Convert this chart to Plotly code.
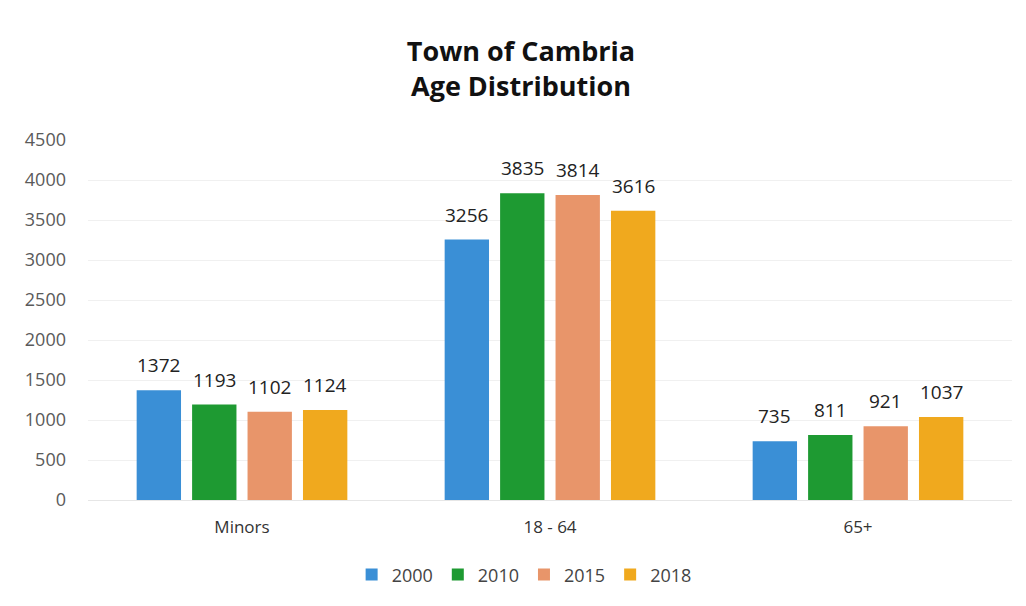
import plotly.graph_objects as go

categories = ["Minors", "18 - 64", "65+"]
years = ["2000", "2010", "2015", "2018"]
values_2000 = [1372, 3256, 735]
values_2010 = [1193, 3835, 811]
values_2015 = [1102, 3814, 921]
values_2018 = [1124, 3616, 1037]
y_ticks = [0, 500, 1000, 1500, 2000, 2500, 3000, 3500, 4000, 4500]

series = [values_2000, values_2010, values_2015, values_2018]
colors = ["#3a8fd6", "#1e9a32", "#e8956a", "#f0a91e"]

bargap = 0.28
groupgap = 0.2

fig = go.Figure()
for year, vals, col in zip(years, series, colors):
    fig.add_trace(go.Bar(
        x=categories,
        y=vals,
        name=year,
        marker=dict(color=col, line=dict(width=0)),
        hovertemplate="%{x}<br>" + year + ": %{y}<extra></extra>",
    ))

# value labels above bars, placed on each bar's slot within its group
slot = (1 - bargap) / len(series)
for k, vals in enumerate(series):
    for i, v in enumerate(vals):
        fig.add_annotation(
            x=i - (1 - bargap) / 2 + slot * (k + 0.5),
            y=v,
            xref="x", yref="y",
            text=str(v),
            showarrow=False,
            yanchor="bottom",
            yshift=10,
            font=dict(size=19, color="#222222", family="Open Sans"),
        )

fig.update_layout(
    width=1026,
    height=606,
    title=dict(
        text="<b>Town of Cambria<br>Age Distribution</b>",
        x=0.5, xanchor="center",
        y=0.913, yanchor="middle",
        font=dict(size=27, color="#111111", family="Open Sans"),
    ),
    barmode="group",
    bargap=bargap,
    bargroupgap=groupgap,
    paper_bgcolor="white",
    plot_bgcolor="white",
    margin=dict(l=80, r=22, t=132, b=114),
    font=dict(family="Open Sans", color="#555555"),
    showlegend=True,
    legend=dict(
        orientation="h",
        x=0.472, xanchor="center",
        y=-0.208, yanchor="middle",
        font=dict(size=18, color="#444444"),
        itemwidth=30,
        traceorder="normal",
    ),
    xaxis=dict(
        tickfont=dict(size=17, color="#333333"),
        showline=True,
        linecolor="#e6e6e6",
        ticks="",
        ticklabelstandoff=12,
    ),
    yaxis=dict(
        range=[0, 4500],
        tickvals=y_ticks,
        tickfont=dict(size=18, color="#5a5a5a"),
        showgrid=True,
        gridcolor="#f0f0f0",
        zeroline=False,
        ticks="",
        ticklabelstandoff=21,
    ),
)

fig.write_html("out.html")
